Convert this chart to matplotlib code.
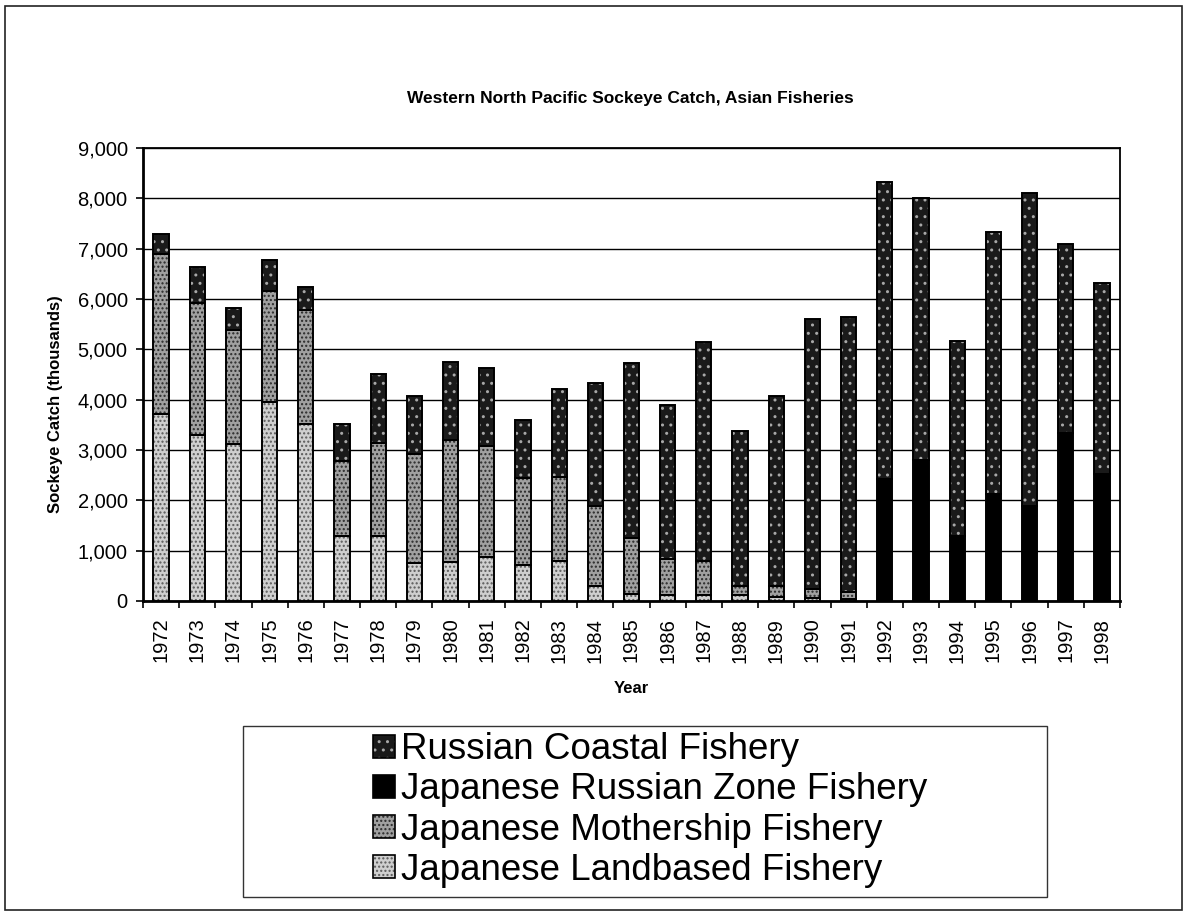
import numpy as np
import matplotlib
matplotlib.use('Agg')
import matplotlib.pyplot as plt
from matplotlib.patches import Rectangle, Patch
from matplotlib.legend_handler import HandlerTuple
from matplotlib.ticker import FuncFormatter, FixedLocator

plt.rcParams['font.family'] = ['Liberation Sans', 'DejaVu Sans']
plt.rcParams['hatch.linewidth'] = 1.0

years = list(range(1972, 1999))

# catch in thousands of fish, by fishery
landbased = [3720, 3290, 3110, 3960, 3510, 1290, 1290, 750, 780, 870, 720, 800, 290, 140,
             110, 110, 110, 70, 50, 40, 0, 0, 0, 0, 0, 0, 0]
mothership = [3170, 2630, 2280, 2190, 2280, 1490, 1850, 2180, 2410, 2210, 1730, 1660, 1600, 1120,
              720, 690, 190, 230, 190, 130, 0, 0, 0, 0, 0, 0, 0]
russian_zone = [0, 0, 0, 0, 0, 0, 0, 0, 0, 0, 0, 0, 0, 0,
                0, 0, 0, 0, 0, 0, 2420, 2810, 1290, 2120, 1890, 3340, 2520]
russian_coastal = [410, 720, 440, 630, 440, 740, 1360, 1140, 1560, 1550, 1140, 1750, 2440, 3470,
                   3060, 4350, 3080, 3770, 5360, 5480, 5910, 5200, 3880, 5220, 6210, 3750, 3790]

# name, values, fill, stipple colour, stipple hatch
series = [
    ('Japanese Landbased Fishery', landbased, '#cfcfcf', '#5a5a5a', '....'),
    ('Japanese Mothership Fishery', mothership, '#a0a0a0', '#2a2a2a', '....'),
    ('Japanese Russian Zone Fishery', russian_zone, '#000000', '#000000', None),
    ('Russian Coastal Fishery', russian_coastal, '#1a1a1a', '#a8a8a8', '..'),
]

W, H = 1188, 917
fig = plt.figure(figsize=(W / 100, H / 100), dpi=100)
ax = fig.add_axes([143 / W, 1 - 601 / H, (1120 - 143) / W, (601 - 148) / H])

x = np.arange(len(years))
bottom = np.zeros(len(years))
for name, vals, col, dotcol, hatch in series:
    vals = np.array(vals, dtype=float)
    ax.bar(x, vals, width=0.42, bottom=bottom, color=col, edgecolor=dotcol,
           hatch=hatch, linewidth=0, zorder=3)
    ax.bar(x, vals, width=0.42, bottom=bottom, fill=False, edgecolor='black',
           linewidth=1.4, zorder=4)
    bottom += vals

ax.set_xlim(-0.5, len(years) - 0.5)
ax.set_ylim(0, 9000)
ax.set_yticks(np.arange(0, 9001, 1000))
ax.yaxis.set_major_formatter(FuncFormatter(lambda v, p: f'{int(v):,}'))
ax.yaxis.grid(True, color='black', linewidth=1.0, zorder=0)
ax.set_axisbelow(True)

ax.set_xticks(x)
ax.set_xticklabels([str(y) for y in years], rotation=90, fontsize=14.5)
ax.xaxis.set_minor_locator(FixedLocator(np.arange(-0.5, len(years), 1.0)))
ax.tick_params(axis='x', which='major', length=0, pad=12)
ax.tick_params(axis='x', which='minor', length=5, width=1.2, direction='out')
ax.tick_params(axis='y', length=5, width=1.2, labelsize=14.5, pad=6)

for side in ['left', 'bottom', 'top', 'right']:
    ax.spines[side].set_linewidth(1.3)
ax.spines['left'].set_linewidth(2.0)
ax.spines['bottom'].set_linewidth(2.0)

ax.set_xlabel('Year', fontsize=12, fontweight='bold', labelpad=13)
ax.set_ylabel('Sockeye Catch (thousands)', fontsize=12, fontweight='bold')
ax.yaxis.set_label_coords(-0.082, 0.435)
fig.text(630 / W, 1 - 98 / H, 'Western North Pacific Sockeye Catch, Asian Fisheries',
         ha='center', va='center', fontsize=12.5, fontweight='bold')

# outer chart border
fig.patches.append(Rectangle((5 / W, 1 - 910 / H), (1182 - 5) / W, (910 - 6) / H,
                             transform=fig.transFigure, fill=False, edgecolor='#222222',
                             linewidth=1.2))

# legend box
lx0, lx1, ly0, ly1 = 243, 1047, 726, 897
fig.patches.append(Rectangle((lx0 / W, 1 - ly1 / H), (lx1 - lx0) / W, (ly1 - ly0) / H,
                             transform=fig.transFigure, fill=False, edgecolor='#333333',
                             linewidth=1.0))
handles = []
labels = []
for name, vals, col, dotcol, hatch in series[::-1]:
    fill = Patch(facecolor=col, edgecolor=dotcol, hatch=hatch, linewidth=0)
    edge = Patch(fill=False, edgecolor='black', linewidth=1.2)
    handles.append((fill, edge))
    labels.append(name)
fig.legend(handles, labels, loc='center',
           bbox_to_anchor=(650 / W, 1 - 810 / H),
           handler_map={tuple: HandlerTuple(ndivide=1, pad=0)},
           frameon=False, fontsize=26.5, handlelength=0.6, handleheight=0.6,
           handletextpad=0.15, labelspacing=0.14, borderpad=0)

fig.savefig('out.png', dpi=100)
